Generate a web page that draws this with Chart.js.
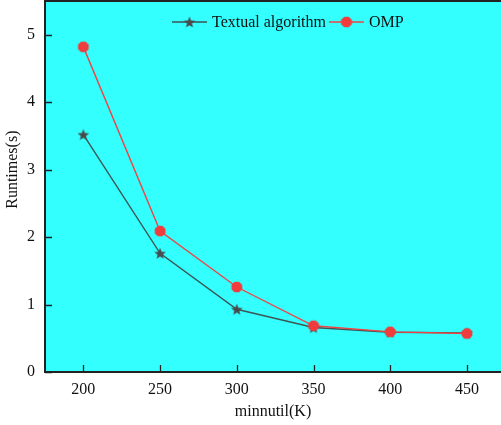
<!DOCTYPE html>
<html>
<head>
<meta charset="utf-8">
<script src="https://cdn.jsdelivr.net/npm/chart.js@4/dist/chart.umd.min.js"></script>
<style>
html,body{margin:0;padding:0;background:#fff;overflow:hidden;}
canvas{display:block;}
</style>
</head>
<body>
<canvas id="c" width="501" height="425"></canvas>
<script>
const categories = [200, 250, 300, 350, 400, 450];
const textualValues = [3.52, 1.76, 0.93, 0.66, 0.59, 0.58];
const ompValues = [4.82, 2.09, 1.26, 0.685, 0.595, 0.57];
const seriesLabels = ["Textual algorithm", "OMP"];
const xTicks = [200, 250, 300, 350, 400, 450];
const yTicks = [0, 1, 2, 3, 4, 5];
const xTitle = "minnutil(K)";
const yTitle = "Runtimes(s)";

const FONT = '"Liberation Serif", "Times New Roman", serif';
const TEXT_COLOR = '#111';
const TEXTUAL_LINE = '#3d5555';
const TEXTUAL_MARK = '#4a4a4a';
const OMP_LINE = '#f04444';
const OMP_MARK = '#f03c3c';
const BG = '#33ffff';
const AXIS = '#222';

function makeStar(color) {
  const s = 14, c = document.createElement('canvas');
  c.width = s; c.height = s;
  const g = c.getContext('2d');
  const R = 6.2, r = 2.6, cx = s/2, cy = s/2 + 0.6;
  g.beginPath();
  for (let i = 0; i < 10; i++) {
    const rad = i % 2 === 0 ? R : r;
    const a = -Math.PI/2 + i * Math.PI/5;
    const x = cx + rad*Math.cos(a), y = cy + rad*Math.sin(a);
    if (i === 0) g.moveTo(x, y); else g.lineTo(x, y);
  }
  g.closePath();
  g.fillStyle = color; g.fill();
  return c;
}
function makeHex(color) {
  const s = 14, c = document.createElement('canvas');
  c.width = s; c.height = s;
  const g = c.getContext('2d');
  const R = 5.8, cx = s/2, cy = s/2;
  g.beginPath();
  for (let i = 0; i < 8; i++) {
    const a = Math.PI/8 + i * Math.PI/4;
    const x = cx + R*Math.cos(a), y = cy + R*Math.sin(a);
    if (i === 0) g.moveTo(x, y); else g.lineTo(x, y);
  }
  g.closePath();
  g.fillStyle = color; g.fill();
  return c;
}
const starImg = makeStar(TEXTUAL_MARK);
const hexImg = makeHex(OMP_MARK);

function noPad(s) {
  s.paddingTop = 0; s.paddingBottom = 0; s.paddingLeft = 0; s.paddingRight = 0;
}

const decorPlugin = {
  id: 'decor',
  beforeDraw(chart) {
    const {ctx, chartArea: a} = chart;
    ctx.save();
    ctx.fillStyle = BG;
    ctx.fillRect(a.left, a.top - 1, a.right - a.left + 2, a.bottom - a.top + 1);
    ctx.restore();
  },
  afterDraw(chart) {
    const {ctx, chartArea: a, scales} = chart;
    ctx.save();
    // top border
    ctx.strokeStyle = AXIS;
    ctx.lineWidth = 2;
    ctx.beginPath(); ctx.moveTo(a.left, a.top); ctx.lineTo(a.right + 2, a.top); ctx.stroke();
    // inward ticks
    ctx.lineWidth = 1.3;
    ctx.beginPath();
    xTicks.forEach(v => {
      const x = Math.round(scales.x.getPixelForValue(v)) + 0.5;
      ctx.moveTo(x, a.bottom); ctx.lineTo(x, a.bottom - 7);
    });
    yTicks.forEach(v => {
      const y = Math.round(scales.y.getPixelForValue(v)) + 0.5;
      ctx.moveTo(a.left, y); ctx.lineTo(a.left + 7, y);
    });
    ctx.stroke();
    // y title
    ctx.fillStyle = TEXT_COLOR;
    ctx.font = '16px ' + FONT;
    ctx.textAlign = 'center'; ctx.textBaseline = 'middle';
    ctx.translate(13, scales.y.getPixelForValue(3.0));
    ctx.rotate(-Math.PI/2);
    ctx.fillText(yTitle, 0, 0);
    ctx.restore();

    // legend
    ctx.save();
    ctx.font = '16px ' + FONT;
    ctx.textBaseline = 'middle';
    ctx.textAlign = 'left';
    const ly = a.top + 21;
    let x = a.left + 127;
    const items = [
      {label: seriesLabels[0], line: TEXTUAL_LINE, img: starImg},
      {label: seriesLabels[1], line: OMP_LINE, img: hexImg}
    ];
    items.forEach((it) => {
      const segW = 35;
      ctx.strokeStyle = it.line; ctx.lineWidth = 1.5;
      ctx.beginPath(); ctx.moveTo(x, ly); ctx.lineTo(x + segW, ly); ctx.stroke();
      ctx.drawImage(it.img, x + segW/2 - 7, ly - 7);
      x += segW + 5;
      ctx.fillStyle = TEXT_COLOR;
      ctx.fillText(it.label, x, ly + 1);
      x += ctx.measureText(it.label).width + 3;
    });
    ctx.restore();
  }
};

new Chart(document.getElementById('c'), {
  type: 'line',
  data: {
    datasets: [
      {
        label: seriesLabels[0],
        data: categories.map((c, i) => ({x: c, y: textualValues[i]})),
        borderColor: TEXTUAL_LINE,
        borderWidth: 1.4,
        pointStyle: starImg,
        pointRadius: 6,
        pointHoverRadius: 6,
        order: 2,
        tension: 0
      },
      {
        label: seriesLabels[1],
        data: categories.map((c, i) => ({x: c, y: ompValues[i]})),
        borderColor: OMP_LINE,
        borderWidth: 1.4,
        pointStyle: hexImg,
        pointRadius: 6,
        pointHoverRadius: 6,
        order: 1,
        tension: 0
      }
    ]
  },
  options: {
    responsive: false,
    animation: false,
    devicePixelRatio: 1,
    layout: {autoPadding: false, padding: {top: 1, right: 0, left: 0, bottom: 0}},
    plugins: {legend: {display: false}, tooltip: {enabled: false}},
    scales: {
      x: {
        type: 'linear',
        min: 175,
        max: 472.2,
        afterBuildTicks: s => { s.ticks = xTicks.map(v => ({value: v})); },
        afterFit: s => { s.height = 53; noPad(s); },
        grid: {display: false, drawTicks: false, tickLength: 0},
        border: {display: true, color: AXIS, width: 2},
        ticks: {color: TEXT_COLOR, font: {family: FONT, size: 16}, padding: 8, maxRotation: 0, autoSkip: false},
        title: {display: true, text: xTitle, color: TEXT_COLOR, font: {family: FONT, size: 16}, padding: {top: 0, bottom: 4}}
      },
      y: {
        type: 'linear',
        min: 0,
        max: 5.5,
        afterBuildTicks: s => { s.ticks = yTicks.map(v => ({value: v})); },
        afterFit: s => { s.width = 45; noPad(s); },
        grid: {display: false, drawTicks: false, tickLength: 0},
        border: {display: true, color: AXIS, width: 2},
        ticks: {color: TEXT_COLOR, font: {family: FONT, size: 16}, padding: 10}
      }
    }
  },
  plugins: [decorPlugin]
});
</script>
</body>
</html>
